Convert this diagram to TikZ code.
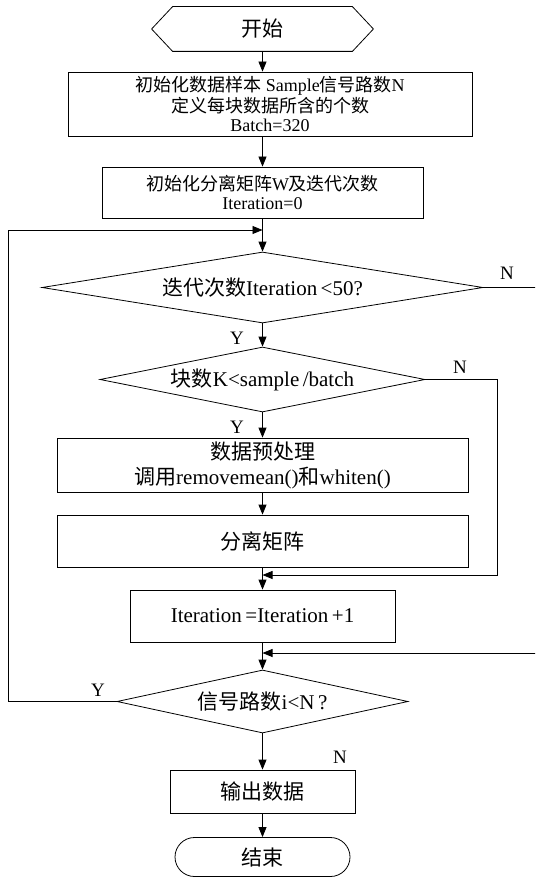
\documentclass[tikz,border=0pt]{standalone}
\usepackage{fontspec}
\setmainfont{Liberation Serif}
\newfontfamily\cjk{Noto Sans CJK SC}
\newcommand{\zh}[1]{{\cjk #1}}
\usetikzlibrary{shapes.geometric,shapes.misc,arrows.meta}

\begin{document}
\begin{tikzpicture}[x=1pt,y=-1pt,line width=0.8pt,
    big/.style={font=\fontsize{21}{25}\selectfont},
    small/.style={font=\fontsize{18}{19}\selectfont},
    box/.style={draw,rectangle,inner sep=0pt,align=center},
    decision/.style={draw,diamond,inner sep=0pt,aspect=6,big},
    arr/.style={-{Triangle[length=10pt,width=8pt]}},
    yn/.style={font=\fontsize{19}{19}\selectfont,inner sep=0pt}]
    \useasboundingbox (0,0) rectangle (535,877);
    \clip (0,0) rectangle (535,877);

    % start / end
    \node[big,minimum width=221pt,minimum height=44pt,inner sep=0pt] (start) at (262.5,29) {\zh{开始}};
    \draw (start.west) -- ([xshift=21pt]start.north west) -- ([xshift=-21pt]start.north east)
        -- (start.east) -- ([xshift=-21pt]start.south east) -- ([xshift=21pt]start.south west) -- cycle;
    \node[draw,rounded rectangle,big,minimum width=175pt,minimum height=39pt,inner sep=0pt] (end) at (262.5,857) {\zh{结束}};

    % boxes
    \node[box,small,minimum width=404pt,minimum height=64pt] (init) at (270,104)
        {\zh{初始化数据样本} Sample\zh{信号路数}N\\ \zh{定义每块数据所含的个数}\\ Batch=320};
    \node[box,small,minimum width=321pt,minimum height=51pt] (initw) at (262.5,192.5)
        {\zh{初始化分离矩阵}W\zh{及迭代次数}\\ Iteration=0};
    \node[box,big,minimum width=411pt,minimum height=54pt] (pre) at (262.5,465)
        {\zh{数据预处理}\\ \zh{调用}removemean()\zh{和}whiten()};
    \node[box,big,minimum width=411pt,minimum height=52pt] (sep) at (262.5,541) {\zh{分离矩阵}};
    \node[box,big,minimum width=265pt,minimum height=52pt] (inc) at (262.5,616) {Iteration\,=Iteration\,+1};
    \node[box,big,minimum width=185pt,minimum height=43pt] (out) at (262.5,791.5) {\zh{输出数据}};

    % decisions
    \node[decision,minimum width=441pt,minimum height=71pt] (iter) at (262.5,287.5) {\zh{迭代次数}Iteration\,<50?};
    \node[decision,minimum width=325pt,minimum height=65pt] (blk) at (262.5,379.5) {\zh{块数}K<sample\,/batch};
    \node[decision,minimum width=291pt,minimum height=63pt] (chan) at (262.5,701.5) {\zh{信号路数}i<N\,?};

    % join points
    \coordinate (loopin) at (262.5,230);
    \coordinate (join1) at (262.5,575);
    \coordinate (join2) at (262.5,653);

    % straight flow
    \draw[arr] (start.south) -- (start.south |- init.north);
    \draw[arr] (init.south -| initw) -- (initw.north);
    \draw[arr] (initw) -- (iter);
    \draw[arr] (iter) -- (blk);
    \draw[arr] (blk) -- (pre);
    \draw[arr] (pre) -- (sep);
    \draw[arr] (sep) -- (inc);
    \draw[arr] (inc) -- (chan);
    \draw[arr] (chan) -- (out);
    \draw[arr] (out) -- (end);

    % loops
    \draw[arr] (chan.west) -- (8,701.5) |- (loopin);
    \draw[arr] (blk.east) -- (497,379.5) |- (join1);
    \draw[arr] (iter.east) -- (560,287.5) |- (join2);

    % labels
    \node[yn] (y1) at (237,338) {Y};
    \node[yn] (y2) at (237,427) {Y};
    \node[yn] (y3) at (98,690) {Y};
    \node[yn] (n1) at (507,273) {N};
    \node[yn] (n2) at (460,367) {N};
    \node[yn] (n3) at (340,757) {N};
\end{tikzpicture}
\end{document}
